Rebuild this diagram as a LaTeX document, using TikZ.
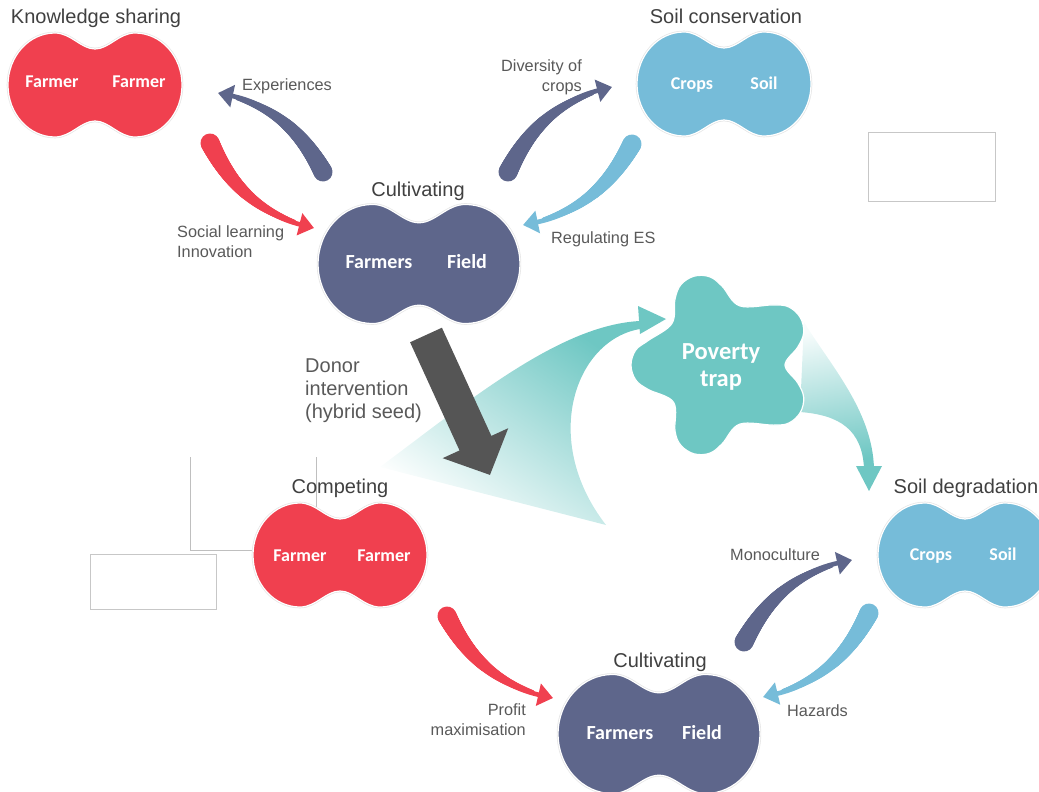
\documentclass[tikz,border=0pt]{standalone}
\usepackage{fontspec}
\setmainfont{Liberation Sans}
\newfontfamily\blobfont{Carlito}
\usepackage{tikz}
\usetikzlibrary{arrows.meta}
\usetikzlibrary{positioning}
\usetikzlibrary{calc}
\usetikzlibrary{decorations.markings}
\definecolor{cred}{HTML}{F0404F}
\definecolor{cnavy}{HTML}{5E668B}
\definecolor{csky}{HTML}{76BCD9}
\definecolor{cteal}{HTML}{6EC7C3}
\definecolor{cdark}{HTML}{555555}
\definecolor{ctitle}{HTML}{404040}
\definecolor{clabel}{HTML}{595959}
\begin{document}
\begin{tikzpicture}[x=1pt,y=-1pt,
  title/.style={font=\fontsize{20}{24}\selectfont,text=ctitle,inner sep=0pt,anchor=base},
  lbl/.style={font=\fontsize{16.3}{20}\selectfont,text=clabel,inner sep=0pt},
  inner/.style={font=\blobfont\bfseries\fontsize{18}{20}\selectfont,text=white,inner sep=0pt,anchor=base},
  big/.style={inner,font=\blobfont\bfseries\fontsize{20}{22}\selectfont},
  hub/.style={inner sep=0pt,minimum size=0pt},
  emptybox/.style={draw=black!22,line width=0.8pt,inner sep=0pt},
  elbow/.style={draw=black!25,line width=0.8pt},
  swoosh/.style={draw=#1,line width=4.6pt,-{Triangle[length=15pt,width=22pt]},
    decoration={markings,mark=between positions 0 and 0.85 step 0.8pt with {
      \pgfmathsetmacro\swr{9.5-8.5*\pgfkeysvalueof{/pgf/decoration/mark info/distance from start}/\pgfdecoratedpathlength}
      \fill[#1] (0,0) circle[radius=\swr pt];}},
    postaction=decorate},
  donor/.style={draw=cdark,line width=35pt,-{Triangle[length=35pt,width=70pt]}},
  peanut/.pic={
    \fill[#1,preaction={draw=black!10,line width=2.6pt},draw=white,line width=1.2pt]
      (0,-36) .. controls (14,-36) and (24,-52) .. (40,-52)
      arc[start angle=-90,end angle=90,x radius=47,y radius=52]
      .. controls (24,52) and (14,36) .. (0,36)
      .. controls (-14,36) and (-24,52) .. (-40,52)
      arc[start angle=90,end angle=270,x radius=47,y radius=52]
      .. controls (-24,-52) and (-14,-36) .. (0,-36) -- cycle;
  }]
\useasboundingbox (0,0) rectangle (1039,792);

\node[emptybox,minimum width=127pt,minimum height=69pt] (boxa) at (931.5,166.5) {};
\node[emptybox,minimum width=126pt,minimum height=55pt] (boxb) at (153.5,581.5) {};
\coordinate (ea) at (190,457);
\coordinate (eb) at (190,550);
\coordinate (ec) at (254,550);
\coordinate (ed) at (316,457);
\coordinate (ee) at (316,515);
\draw[elbow] (ea)--(eb)--(ec);
\draw[elbow] (ed)--(ee);

\shade[top color=cteal,middle color=cteal!20,bottom color=white,shading angle=-35]
  (380,467) .. controls (470,400) and (560,325) .. (640,321) -- (640,329)
  .. controls (575,340) and (540,440) .. (606,525) -- cycle;
\fill[cteal] (638,306) -- (666,319) -- (640,334) -- cycle;
\shade[top color=cteal!5,bottom color=cteal,shading angle=10]
  (804,322) .. controls (830,365) and (872,410) .. (874,468) -- (864,468)
  .. controls (862,430) and (840,415) .. (800,412) -- cycle;
\fill[cteal] (856,466) -- (882,466) -- (869,491) -- cycle;

\coordinate (tc) at (718,365);
\fill[cteal,draw=white,line width=1.2pt] plot[smooth cycle,tension=0.6] coordinates {
  ($(tc)+(-138:62)$)
  ($(tc)+(-105:66)+(-175:26)$) ($(tc)+(-105:66)+(-140:26)$) ($(tc)+(-105:66)+(-105:26)$) ($(tc)+(-105:66)+(-70:26)$) ($(tc)+(-105:66)+(-35:26)$)
  ($(tc)+(-70:63)$)
  ($(tc)+(-30:69)+(-100:26)$) ($(tc)+(-30:69)+(-65:26)$) ($(tc)+(-30:69)+(-30:26)$) ($(tc)+(-30:69)+(5:26)$) ($(tc)+(-30:69)+(40:26)$)
  ($(tc)+(0:67)$)
  ($(tc)+(30:69)+(-40:26)$) ($(tc)+(30:69)+(-5:26)$) ($(tc)+(30:69)+(30:26)$) ($(tc)+(30:69)+(65:26)$) ($(tc)+(30:69)+(100:26)$)
  ($(tc)+(70:63)$)
  ($(tc)+(105:66)+(35:26)$) ($(tc)+(105:66)+(70:26)$) ($(tc)+(105:66)+(105:26)$) ($(tc)+(105:66)+(140:26)$) ($(tc)+(105:66)+(175:26)$)
  ($(tc)+(140:58)$)
  ($(tc)+(180:61)+(110:26)$) ($(tc)+(180:61)+(145:26)$) ($(tc)+(180:61)+(180:26)$) ($(tc)+(180:61)+(215:26)$) ($(tc)+(180:61)+(250:26)$)};
\node[big,anchor=center,align=center,font=\blobfont\bfseries\fontsize{24.5}{27}\selectfont] (trap) at (721,367) {Poverty\\trap};

\node[hub] (ks) at (95,85) {};
\node[hub] (sc) at (724,84) {};
\node[hub] (cu) at (419,264) {};
\node[hub] (co) at (340,555) {};
\node[hub] (sd) at (965,555) {};
\node[hub] (cb) at (659,734) {};
\pic at (ks) {peanut=cred};
\pic at (sc) {peanut=csky};
\pic[xscale=1.16,yscale=1.145] at (cu) {peanut=cnavy};
\pic at (co) {peanut=cred};
\pic at (sd) {peanut=csky};
\pic[xscale=1.16,yscale=1.145] at (cb) {peanut=cnavy};

\node[inner] (ks1) at (52,88) {Farmer};
\node[inner] (ks2) at (139,88) {Farmer};
\node[inner] (sc1) at (692,89) {Crops};
\node[inner] (sc2) at (764,89) {Soil};
\node[big] (cu1) at (379,268) {Farmers};
\node[big] (cu2) at (467,268) {Field};
\node[inner] (co1) at (300,561) {Farmer};
\node[inner] (co2) at (384,561) {Farmer};
\node[inner] (sd1) at (931,560) {Crops};
\node[inner] (sd2) at (1003,560) {Soil};
\node[big] (cb1) at (620,739) {Farmers};
\node[big] (cb2) at (702,739) {Field};

\node[title] (kst) at (96,24) {Knowledge sharing};
\node[title] (sct) at (726,23.5) {Soil conservation};
\node[title] (cut) at (418,196) {Cultivating};
\node[title] (cot) at (340,493) {Competing};
\node[title] (sdt) at (966,493) {Soil degradation};
\node[title] (cbt) at (660,667) {Cultivating};

\coordinate (expT) at (323,172);
\coordinate (expH) at (218,93);
\coordinate (socT) at (210,143);
\coordinate (socH) at (314,228);
\coordinate (divT) at (508,172);
\coordinate (divH) at (612,87);
\coordinate (regT) at (632,144);
\coordinate (regH) at (523,225);
\coordinate (monT) at (744,642);
\coordinate (monH) at (852,560);
\coordinate (hazT) at (869,613);
\coordinate (hazH) at (763,697);
\coordinate (proT) at (447,616);
\coordinate (proH) at (553,698);
\draw[swoosh=cnavy] (expT) to[bend right=25] (expH);
\draw[swoosh=cred] (socT) to[bend right=25] (socH);
\draw[swoosh=cnavy] (divT) to[bend left=25] (divH);
\draw[swoosh=csky] (regT) to[bend left=25] (regH);
\draw[swoosh=cnavy] (monT) to[bend left=25] (monH);
\draw[swoosh=csky] (hazT) to[bend left=25] (hazH);
\draw[swoosh=cred] (proT) to[bend right=25] (proH);

\coordinate (donT) at (426,335);
\coordinate (donH) at (490,475);
\draw[donor] (donT)--(donH);

\node[lbl,anchor=base west] (exp) at (242,91) {Experiences};
\node[lbl,anchor=base west,align=left] (soc) at (177,257) {Social learning\\Innovation};
\node[lbl,anchor=base east,align=right] (div) at (582,92) {Diversity of\\crops};
\node[lbl,anchor=base west] (reg) at (551,243) {Regulating ES};
\node[lbl,anchor=base west] (mon) at (730,560) {Monoculture};
\node[lbl,anchor=base west] (haz) at (787,716) {Hazards};
\node[lbl,anchor=base east,align=right] (pro) at (526,735) {Profit\\maximisation};
\node[title,anchor=base west,align=left,font=\fontsize{20}{23}\selectfont,text=clabel] (don) at (305,418) {Donor\\intervention\\(hybrid seed)};
\end{tikzpicture}
\end{document}
